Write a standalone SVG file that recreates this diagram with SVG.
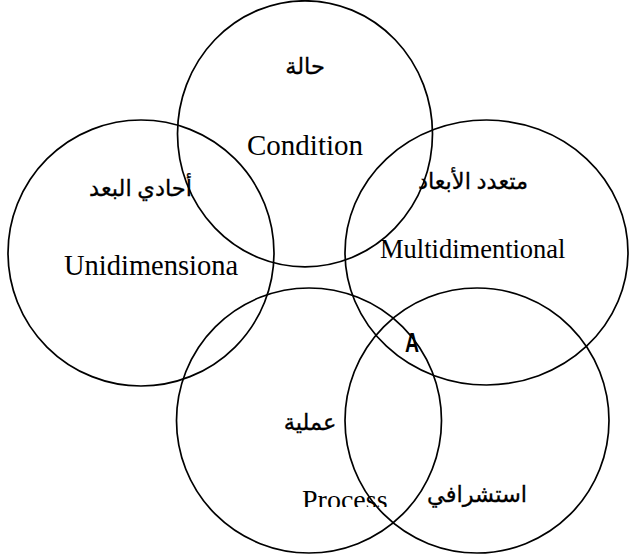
<svg xmlns="http://www.w3.org/2000/svg" width="629" height="558" viewBox="0 0 629 558">
<style>
.c{fill:none;stroke:#000;stroke-width:1.7}
.en{font-family:"Liberation Serif","Times New Roman",serif;fill:#000}
.ar{font-family:"Liberation Serif","DejaVu Sans","Noto Sans",serif;font-size:22.5px;fill:#000;stroke:#000;stroke-width:0.3;text-anchor:middle}
.lbl{font-family:"Liberation Sans",Arial,sans-serif;font-weight:bold;font-size:27px;fill:#000}
</style>
<defs>
<clipPath id="clipProcess"><rect x="290" y="480" width="110" height="27"/></clipPath>
</defs>
<rect width="629" height="558" fill="#fff"/>
<g id="connectors"/>
<g id="node-condition">
<ellipse class="c" cx="305" cy="133.8" rx="127.5" ry="133"/>
<text class="ar" x="305" y="74">حالة</text>
<text class="en" x="305" y="155" font-size="29" text-anchor="middle">Condition</text>
</g>
<g id="node-unidimensional">
<ellipse class="c" cx="141" cy="253" rx="133" ry="133"/>
<text class="ar" x="140.5" y="196">أحادي البعد</text>
<text class="en" x="64" y="275" font-size="28.5">Unidimensiona</text>
</g>
<g id="node-multidimensional">
<ellipse class="c" cx="486.5" cy="252.5" rx="141.5" ry="132.5"/>
<text class="ar" x="473" y="189">متعدد الأبعاد</text>
<text class="en" x="380" y="257.5" font-size="26.5">Multidimentional</text>
</g>
<g id="node-process">
<ellipse class="c" cx="309" cy="420.5" rx="132.5" ry="132.5"/>
<text class="ar" x="310" y="430">عملية</text>
<text class="en" x="302" y="509" font-size="28" clip-path="url(#clipProcess)">Process</text>
</g>
<g id="node-proactive">
<ellipse class="c" cx="477" cy="420.5" rx="132" ry="132.5"/>
<text class="ar" x="477" y="502">استشرافي</text>
</g>
<g id="label-a">
<text class="lbl" transform="translate(405,352) scale(0.72,1)" x="0" y="0">A</text>
</g>
</svg>
